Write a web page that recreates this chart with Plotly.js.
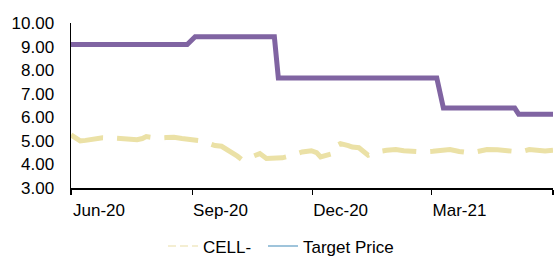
<!DOCTYPE html>
<html>
<head>
<meta charset="utf-8">
<script src="https://cdn.plot.ly/plotly-3.0.1.min.js"></script>
<style>html,body{margin:0;padding:0;background:#fff;}#chart{width:554px;height:257px;}</style>
</head>
<body>
<div id="chart"></div>
<script>
// CELL- share price (daily close, sampled)
var priceDates = ['2020-06-01','2020-06-04','2020-06-08','2020-06-12','2020-06-17','2020-06-21','2020-06-25',
  '2020-07-03','2020-07-08','2020-07-14','2020-07-21','2020-07-25','2020-07-28','2020-08-01','2020-08-05',
  '2020-08-12','2020-08-18','2020-08-24','2020-09-01','2020-09-05','2020-09-09','2020-09-14',
  '2020-09-18','2020-09-23','2020-09-27','2020-10-01','2020-10-05','2020-10-09',
  '2020-10-15','2020-10-22','2020-10-27','2020-11-01','2020-11-04','2020-11-08','2020-11-11',
  '2020-11-17','2020-11-23','2020-11-30','2020-12-04','2020-12-07','2020-12-12','2020-12-16','2020-12-17',
  '2020-12-22','2020-12-28','2020-12-31','2021-01-05','2021-01-09','2021-01-12','2021-01-15','2021-01-18',
  '2021-01-26','2021-02-02','2021-02-08','2021-02-15','2021-02-22','2021-03-02',
  '2021-03-08','2021-03-15','2021-03-22','2021-03-30','2021-04-05','2021-04-12',
  '2021-04-20','2021-04-27','2021-05-03','2021-05-07','2021-05-14','2021-05-20','2021-05-26','2021-06-01'];
var priceValues = [5.25,5.15,5.00,5.02,5.05,5.08,5.13,
  5.12,5.10,5.10,5.05,5.10,5.18,5.15,5.12,
  5.14,5.15,5.10,5.05,5.03,4.99,4.88,
  4.80,4.77,4.65,4.53,4.35,4.18,
  4.30,4.46,4.25,4.26,4.25,4.28,4.32,
  4.42,4.53,4.58,4.50,4.32,4.40,4.46,4.74,
  4.88,4.80,4.74,4.71,4.55,4.39,4.45,4.53,
  4.60,4.63,4.58,4.53,4.53,4.56,
  4.60,4.63,4.55,4.49,4.55,4.63,
  4.62,4.60,4.55,4.53,4.63,4.58,4.57,4.60];

// Target price (step changes)
var tpDates = ['2020-06-01','2020-08-28','2020-09-03','2020-11-02','2020-11-05',
  '2021-03-05','2021-03-10','2021-05-03','2021-05-06','2021-06-01'];
var tpValues = [9.09,9.09,9.42,9.42,7.67,7.67,6.39,6.39,6.13,6.13];

var seriesNames = ['CELL-','Target Price'];
var tickDates = ['2020-06-01','2020-09-01','2020-12-01','2021-03-01','2021-06-01'];
var tickLabels = ['Jun-20','Sep-20','Dec-20','Mar-21',''];

var FONT = 'Liberation Sans, Arial, sans-serif';

var traces = [
  {x: priceDates, y: priceValues, type: 'scatter', mode: 'lines', name: seriesNames[0],
   showlegend: false, line: {color: '#ebe1a6', width: 5, dash: '34px,14px'}},
  {x: tpDates, y: tpValues, type: 'scatter', mode: 'lines', name: seriesNames[1],
   showlegend: false, line: {color: '#8064a2', width: 5}},
  {x: [null], y: [null], type: 'scatter', mode: 'lines', name: seriesNames[0], legend: 'legend',
   line: {color: '#f1e9c4', width: 1.5, dash: '8px,4px'}},
  {x: [null], y: [null], type: 'scatter', mode: 'lines', name: seriesNames[1], legend: 'legend2',
   line: {color: '#7fb0cf', width: 1.5}}
];

var legendBase = {orientation: 'h', xanchor: 'left', y: -0.245, yanchor: 'top',
  font: {family: FONT, size: 17, color: '#000000'}, itemwidth: 30, bgcolor: 'rgba(0,0,0,0)'};

var layout = {
  width: 554, height: 257,
  margin: {l: 71, r: 1, t: 23, b: 69, autoexpand: false},
  paper_bgcolor: '#ffffff', plot_bgcolor: '#ffffff',
  font: {family: FONT, size: 17, color: '#000000'},
  showlegend: true,
  legend: Object.assign({}, legendBase, {x: (163 - 71) / 482}),
  legend2: Object.assign({}, legendBase, {x: (263 - 71) / 482}),
  xaxis: {type: 'date', range: ['2020-06-01','2021-06-01'], tickmode: 'array',
          tickvals: tickDates, ticktext: tickLabels, showgrid: false, zeroline: false,
          showline: true, linecolor: '#000000', linewidth: 1.5,
          ticks: 'outside', ticklen: 5, tickwidth: 1.5, tickcolor: '#000000',
          ticklabelshift: 28, ticklabelstandoff: 1,
          tickfont: {family: FONT, size: 17, color: '#000000'}, fixedrange: true},
  yaxis: {range: [3, 10], dtick: 1, tick0: 3, tickformat: '.2f', showgrid: false, zeroline: false,
          showline: true, linecolor: '#000000', linewidth: 1.5, ticks: '',
          ticklabelstandoff: 12,
          tickfont: {family: FONT, size: 17, color: '#000000'}, fixedrange: true}
};

Plotly.newPlot('chart', traces, layout, {staticPlot: true, displayModeBar: false});
</script>
</body>
</html>
